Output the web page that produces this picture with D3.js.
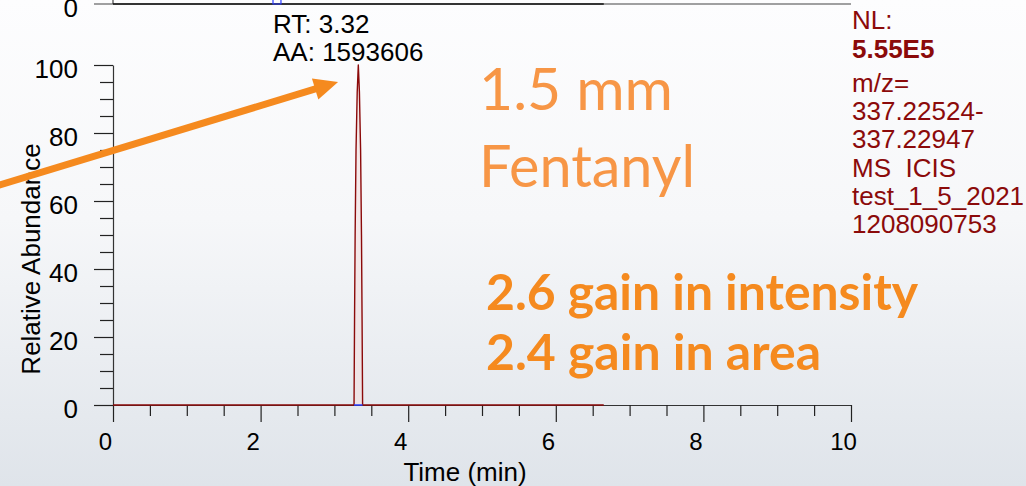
<!DOCTYPE html>
<html>
<head>
<meta charset="utf-8">
<script src="https://cdn.jsdelivr.net/npm/d3@7"></script>
<style>
  body { margin: 0; overflow: hidden; }
  svg { display: block; }
</style>
</head>
<body>
<div id="container"></div>
<script>
// chromatogram trace (time in min, relative abundance in %)
const times = [0, 3.266, 3.273, 3.281, 3.293, 3.309, 3.324, 3.339, 3.355, 3.367, 3.375, 3.382, 6.65];
const abundance = [0, 0, 25, 50, 75, 92, 100, 92, 75, 50, 25, 0, 0];
// previous chromatogram, only its baseline is visible at the top
const topTimes = [0, 6.65];
const topAbundance = [0, 0];
const topPeakStart = 2.168;
const topPeakEnd = 2.276;
const peakStart = 3.266;
const peakEnd = 3.382;

const xTicks = [0, 2, 4, 6, 8, 10];
const yTicks = [0, 20, 40, 60, 80, 100];
const xMinor = [0.5, 1, 1.5, 2.5, 3, 3.5, 4.5, 5, 5.5, 6.5, 7, 7.5, 8.5, 9, 9.5];
const yMinor = [5, 10, 15, 25, 30, 35, 45, 50, 55, 65, 70, 75, 85, 90, 95];

const peakLabel = ['RT: 3.32', 'AA: 1593606'];
const infoLines = ['m/z=', '337.22524-', '337.22947', 'MS  ICIS', 'test_1_5_2021', '1208090753'];
const nlValue = '5.55E5';
const titleLines = ['1.5 mm', 'Fentanyl'];
const gainLines = ['2.6 gain in intensity', '2.4 gain in area'];
// arrow in data units: [time, abundance]
const arrowFrom = [-1.6, 64.3];
const arrowTo = [3.05, 95];

const width = 1026;
const height = 486;
const darkRed = '#8b0a0a';
const orange = '#f58a1f';
const font = '"Liberation Sans", Arial, sans-serif';

const svg = d3.select('#container')
  .append('svg')
  .attr('width', width)
  .attr('height', height);

// slide background
const defs = svg.append('defs');
const grad = defs.append('linearGradient')
  .attr('id', 'bg')
  .attr('x1', 0).attr('y1', 0).attr('x2', 0).attr('y2', 1);
grad.append('stop').attr('offset', '0%').attr('stop-color', '#fdfdfe');
grad.append('stop').attr('offset', '45%').attr('stop-color', '#f6f7f9');
grad.append('stop').attr('offset', '100%').attr('stop-color', '#dfe4ea');
svg.append('rect').attr('width', width).attr('height', height).attr('fill', 'url(#bg)');

const x = d3.scaleLinear().domain([0, 10]).range([113, 851]);
const y = d3.scaleLinear().domain([0, 100]).range([405, 65]);
const yTop = d3.scaleLinear().domain([0, 100]).range([4, -336]);

// ---- top (cut off) chromatogram ----
svg.append('line')
  .attr('x1', x(0) - 19).attr('x2', x(10))
  .attr('y1', yTop(0)).attr('y2', yTop(0))
  .attr('stroke', '#444').attr('stroke-width', 1.2);
svg.append('line')
  .attr('x1', x(0)).attr('x2', x(0))
  .attr('y1', yTop(0)).attr('y2', yTop(10))
  .attr('stroke', '#444').attr('stroke-width', 1.2);
svg.append('path')
  .datum(topTimes.map((t, i) => [t, topAbundance[i]]))
  .attr('fill', 'none')
  .attr('stroke', '#111')
  .attr('stroke-width', 1.6)
  .attr('d', d3.line().x((d) => x(d[0])).y((d) => yTop(d[1])));
svg.append('path')
  .attr('fill', 'none')
  .attr('stroke', '#2b3cff')
  .attr('stroke-width', 1.2)
  .attr('d', d3.line()([
    [x(topPeakStart), yTop(2)], [x(topPeakStart), yTop(0)],
    [x(topPeakEnd), yTop(0)], [x(topPeakEnd), yTop(2)],
  ]));
// tick label of the chart above, cut by the top edge as in the slide
svg.append('text')
  .attr('x', 78).attr('y', yTop(0) + 13)
  .attr('text-anchor', 'end')
  .style('font', `26px ${font}`)
  .text('0');

// ---- main axes ----
function styleAxis(g) {
  g.selectAll('path.domain').attr('stroke', '#333').attr('stroke-width', 1.2);
  g.selectAll('.tick line').attr('stroke', '#222').attr('stroke-width', 1.2);
}

const xAxis = svg.append('g')
  .attr('transform', `translate(0,${y(0)})`)
  .call(d3.axisBottom(x).tickValues(xTicks).tickSize(17).tickSizeOuter(0).tickFormat(d3.format('d')));
styleAxis(xAxis);
xAxis.selectAll('.tick text')
  .attr('y', 28).attr('dx', -8)
  .attr('fill', '#000')
  .style('font', `24px ${font}`);

const xMinorAxis = svg.append('g')
  .attr('transform', `translate(0,${y(0)})`)
  .call(d3.axisBottom(x).tickValues(xMinor).tickSize(11).tickFormat(''));
xMinorAxis.select('path.domain').remove();
styleAxis(xMinorAxis);

const yAxis = svg.append('g')
  .attr('transform', `translate(${x(0)},0)`)
  .call(d3.axisLeft(y).tickValues(yTicks).tickSize(19).tickSizeOuter(0).tickFormat(d3.format('d')));
styleAxis(yAxis);
yAxis.selectAll('.tick text')
  .attr('x', -35).attr('y', 4)
  .attr('fill', '#000')
  .style('font', `26px ${font}`);

const yMinorAxis = svg.append('g')
  .attr('transform', `translate(${x(0)},0)`)
  .call(d3.axisLeft(y).tickValues(yMinor).tickSize(13).tickFormat(''));
yMinorAxis.select('path.domain').remove();
styleAxis(yMinorAxis);

// axis titles
svg.append('text')
  .attr('transform', `translate(40,${(y(0) + y(100)) / 2 + 24}) rotate(-90)`)
  .attr('text-anchor', 'middle')
  .style('font', `26px ${font}`)
  .text('Relative Abundance');
svg.append('text')
  .attr('x', x(4.77)).attr('y', 481)
  .attr('text-anchor', 'middle')
  .style('font', `26px ${font}`)
  .text('Time (min)');

// ---- trace ----
svg.append('path')
  .datum(times.map((t, i) => [t, abundance[i]]))
  .attr('fill', '#f3dede')
  .attr('fill-opacity', 0.6)
  .attr('stroke', darkRed)
  .attr('stroke-width', 1.4)
  .attr('stroke-linejoin', 'round')
  .attr('d', d3.line().x((d) => x(d[0])).y((d) => y(d[1])));
svg.append('line')
  .attr('x1', x(peakStart)).attr('x2', x(peakEnd))
  .attr('y1', y(0)).attr('y2', y(0))
  .attr('stroke', '#2b3cff').attr('stroke-width', 1.5);

// peak label
svg.append('g')
  .selectAll('text')
  .data(peakLabel)
  .join('text')
  .attr('x', x(3.32) - 85)
  .attr('y', (d, i) => 33 + i * 28)
  .style('font', `26px ${font}`)
  .text((d) => d);

// ---- info text on the right ----
const info = svg.append('g').style('font', `26px ${font}`).attr('fill', darkRed);
info.append('text').attr('x', x(10) + 1).attr('y', 29).text('NL:');
info.append('text').attr('x', x(10) + 1).attr('y', 58).style('font-weight', 'bold').text(nlValue);
info.selectAll('text.line')
  .data(infoLines)
  .join('text')
  .attr('class', 'line')
  .attr('x', x(10) + 1)
  .attr('y', (d, i) => 92 + i * 28.2)
  .style('white-space', 'pre')
  .text((d) => d);

// ---- slide annotations ----
const titleLens = [194, 216];
svg.append('g')
  .selectAll('text')
  .data(titleLines)
  .join('text')
  .attr('x', 479)
  .attr('y', (d, i) => 110 + i * 77)
  .attr('fill', '#f79646')
  .attr('textLength', (d, i) => titleLens[i])
  .attr('lengthAdjust', 'spacingAndGlyphs')
  .style('font', '58px Lato, "Open Sans", sans-serif')
  .text((d) => d);

const gainLens = [432, 335];
svg.append('g')
  .selectAll('text')
  .data(gainLines)
  .join('text')
  .attr('x', 486)
  .attr('y', (d, i) => 310 + i * 60)
  .attr('fill', orange)
  .attr('textLength', (d, i) => gainLens[i])
  .attr('lengthAdjust', 'spacingAndGlyphs')
  .style('font', 'bold 49px Lato, "Open Sans", sans-serif')
  .text((d) => d);

// orange arrow
const p0 = [x(arrowFrom[0]), y(arrowFrom[1])];
const p1 = [x(arrowTo[0]), y(arrowTo[1])];
const ang = Math.atan2(p1[1] - p0[1], p1[0] - p0[0]);
const headLen = 24;
const headHalf = 11;
const base = [p1[0] - headLen * Math.cos(ang), p1[1] - headLen * Math.sin(ang)];
svg.append('line')
  .attr('x1', p0[0]).attr('y1', p0[1])
  .attr('x2', base[0] + 2 * Math.cos(ang)).attr('y2', base[1] + 2 * Math.sin(ang))
  .attr('stroke', orange)
  .attr('stroke-width', 7);
svg.append('path')
  .attr('fill', orange)
  .attr('d', d3.line()([
    p1,
    [base[0] + headHalf * Math.sin(ang), base[1] - headHalf * Math.cos(ang)],
    [base[0] - headHalf * Math.sin(ang), base[1] + headHalf * Math.cos(ang)],
  ]) + 'Z');
</script>
</body>
</html>
